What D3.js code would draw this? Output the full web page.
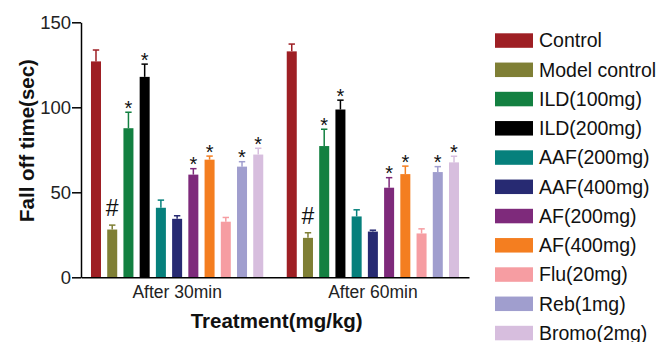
<!DOCTYPE html>
<html><head><meta charset="utf-8">
<script src="https://cdn.jsdelivr.net/npm/d3@7"></script>
<style>body{margin:0;background:#fff}svg{display:block}text{font-family:"Liberation Sans",Arial,sans-serif}</style>
</head><body>
<svg id="c" width="665" height="342"></svg>
<script>
const groups = ["After 30min", "After 60min"];
const treatments = ["Control","Model control","ILD(100mg)","ILD(200mg)","AAF(200mg)","AAF(400mg)","AF(200mg)","AF(400mg)","Flu(20mg)","Reb(1mg)","Bromo(2mg)"];
const colors = ["#9E1F24","#7F7F35","#138041","#000000","#06807C","#272A72","#7E2A7B","#F47E20","#F69DA2","#A09ECE","#D7BEDE"];
const means30 = [127.0, 28.1, 87.7, 117.9, 40.9, 34.4, 60.4, 69.2, 32.7, 65.1, 72.2];
const err30   = [6.7, 2.6, 9.4, 7.5, 4.5, 1.8, 3.5, 2.1, 2.5, 2.9, 3.7];
const means60 = [132.9, 23.2, 77.2, 98.7, 35.8, 26.9, 52.7, 60.7, 25.8, 61.9, 67.6];
const err60   = [4.3, 3.0, 9.9, 5.5, 3.9, 0.8, 5.9, 4.7, 2.7, 3.2, 3.6];
const marks   = ["", "#", "*", "*", "", "", "*", "*", "", "*", "*"];
const yTicks = [0, 50, 100, 150];

const svg = d3.select("#c");
const x0 = d3.scaleBand().domain(groups).range([81, 469]).paddingInner(0.12).paddingOuter(0.051);
const x1 = d3.scaleBand().domain(treatments).range([0, x0.bandwidth()]).paddingInner(0.383).paddingOuter(0);
const y = d3.scaleLinear().domain([0, 150]).range([277.3, 22.3]);

const data = [];
groups.forEach((g, gi) => {
  const m = gi === 0 ? means30 : means60;
  const e = gi === 0 ? err30 : err60;
  treatments.forEach((t, i) => data.push({g, t, i, v: m[i], e: e[i], mark: marks[i]}));
});

const bars = svg.append("g").selectAll("g").data(data).join("g")
  .attr("transform", d => `translate(${x0(d.g) + x1(d.t)},0)`);
bars.append("rect")
  .attr("x", 0).attr("width", x1.bandwidth())
  .attr("y", d => y(d.v)).attr("height", d => y(0) - y(d.v))
  .attr("fill", d => colors[d.i]);
const cx = x1.bandwidth() / 2;
bars.append("line").attr("x1", cx).attr("x2", cx)
  .attr("y1", d => y(d.v)).attr("y2", d => y(d.v + d.e))
  .attr("stroke", d => colors[d.i]).attr("stroke-width", 1.5);
bars.append("line").attr("x1", cx - 3.2).attr("x2", cx + 3.2)
  .attr("y1", d => y(d.v + d.e)).attr("y2", d => y(d.v + d.e))
  .attr("stroke", d => colors[d.i]).attr("stroke-width", 1.5);
bars.filter(d => d.mark === "*").append("text")
  .attr("x", cx).attr("y", d => y(d.v + d.e) + 2.5)
  .attr("text-anchor", "middle").attr("font-size", 20).attr("fill", "#111").text("*");
bars.filter(d => d.mark === "#").append("text")
  .attr("x", cx).attr("y", d => y(d.v + d.e) - 9)
  .attr("text-anchor", "middle").attr("font-size", 23).attr("fill", "#111").text("#");

// y axis
const ya = svg.append("g").attr("transform", "translate(81,0)")
  .call(d3.axisLeft(y).tickValues(yTicks).tickSize(9).tickPadding(1).tickSizeOuter(0));
ya.select(".domain").attr("stroke", "#000").attr("stroke-width", 1.5);
ya.selectAll(".tick line").attr("stroke", "#000").attr("stroke-width", 1.5);
ya.selectAll(".tick text").attr("font-size", 18.5).attr("fill", "#222").attr("font-family", "Liberation Sans, Arial, sans-serif");

// x axis
const xa = svg.append("g").attr("transform", `translate(0,${y(0)})`)
  .call(d3.axisBottom(x0).tickSize(0).tickPadding(8).tickSizeOuter(0));
xa.select(".domain").attr("stroke", "#000").attr("stroke-width", 1.5);
xa.selectAll(".tick text").attr("font-size", 17.5).attr("fill", "#222").attr("font-family", "Liberation Sans, Arial, sans-serif");

// axis titles
svg.append("text").attr("x", 276.7).attr("y", 328).attr("text-anchor", "middle")
  .attr("font-size", 20.5).attr("font-weight", "bold").attr("fill", "#111").text("Treatment(mg/kg)");
svg.append("text").attr("transform", "translate(33.5,140.5) rotate(-90)").attr("text-anchor", "middle")
  .attr("font-size", 20.5).attr("font-weight", "bold").attr("fill", "#111").text("Fall  off time(sec)");

// legend
const lg = svg.append("g").selectAll("g").data(treatments).join("g")
  .attr("transform", (d, i) => `translate(495,${33.3 + i * 29.25})`);
lg.append("rect").attr("width", 38).attr("height", 14.5).attr("fill", (d, i) => colors[i]);
lg.append("text").attr("x", 44).attr("y", 14).attr("font-size", 19.5).attr("fill", "#111").text(d => d);
</script>
</body></html>
